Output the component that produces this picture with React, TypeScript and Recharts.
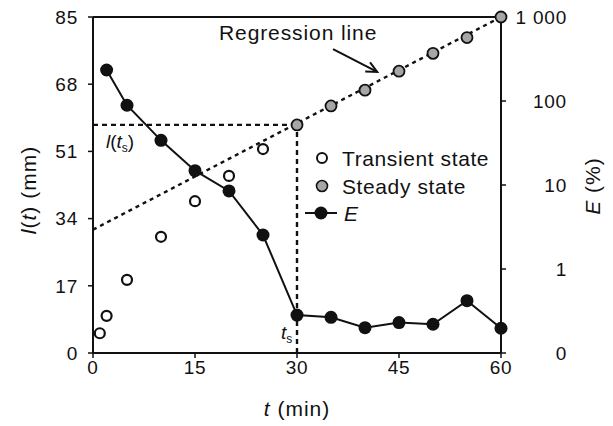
import React from "react";
import {
  ComposedChart,
  XAxis,
  YAxis,
  Line,
  Scatter,
  ReferenceLine,
  Customized,
} from "recharts";

const tTransient = [1, 2, 5, 10, 15, 20, 25];
const lTransient = [5, 9.4, 18.5, 29.4, 38.4, 44.8, 51.6];
const tSteady = [30, 35, 40, 45, 50, 55, 60];
const lSteady = [57.7, 62.5, 66.5, 71.3, 75.8, 79.8, 85];
const tE = [2, 5, 10, 15, 20, 25, 30, 35, 40, 45, 50, 55, 60];
const eValues = [234, 89, 34, 14.8, 8.5, 2.54, 0.283, 0.266, 0.2, 0.23, 0.22, 0.42, 0.197];
const tRegression = [0, 60];
const lRegression = [31.2, 85];
const tS = 30;
const lTS = 57.7;
const arrowStart = { t: 35.3, l: 76.9 };
const arrowEnd = { t: 41.8, l: 71.1 };

const xTicks = [0, 15, 30, 45, 60];
const leftTicks = [0, 17, 34, 51, 68, 85];
const rightTicks = [0.1, 1, 10, 100, 1000];
const rightTickLabels = ["0", "1", "10", "100", "1 000"];

const transientData = tTransient.map((t, i) => ({ t, l: lTransient[i] }));
const steadyData = tSteady.map((t, i) => ({ t, l: lSteady[i] }));
const eData = tE.map((t, i) => ({ t, e: eValues[i] }));
const regData = tRegression.map((t, i) => ({ t, reg: lRegression[i] }));

const FONT = "'Liberation Sans', Arial, sans-serif";

const RightTick = (props: any) => {
  const { x, y, payload } = props;
  const idx = rightTicks.indexOf(payload.value);
  return (
    <text
      x={x + 59}
      y={y}
      dy="0.36em"
      textAnchor="end"
      fontSize={19}
      letterSpacing={0.8}
      fontFamily={FONT}
      fill="#111"
    >
      {idx >= 0 ? rightTickLabels[idx] : payload.value}
    </text>
  );
};

const ArrowShape = (props: any) => {
  const { x1, y1, x2, y2 } = props;
  if ([x1, y1, x2, y2].some((v) => typeof v !== "number")) return null;
  const ang = Math.atan2(y2 - y1, x2 - x1);
  const len = 12;
  const spread = 0.45;
  const ax = x2 - len * Math.cos(ang - spread);
  const ay = y2 - len * Math.sin(ang - spread);
  const bx = x2 - len * Math.cos(ang + spread);
  const by = y2 - len * Math.sin(ang + spread);
  return (
    <g>
      <line x1={x1} y1={y1} x2={x2} y2={y2} stroke="#111" strokeWidth={2} />
      <polyline
        points={`${ax},${ay} ${x2},${y2} ${bx},${by}`}
        fill="none"
        stroke="#111"
        strokeWidth={2}
      />
    </g>
  );
};

const Annotations = () => (
  <g fontFamily={FONT} fill="#111">
    <text x={219} y={40} fontSize={21} letterSpacing={0.9}>
      Regression line
    </text>
    <text x={106} y={148} fontSize={19}>
      <tspan fontStyle="italic">l</tspan>(
      <tspan fontStyle="italic">t</tspan>
      <tspan fontSize={12} dy={4}>s</tspan>
      <tspan dy={-4}>)</tspan>
    </text>
    <text x={281} y={339} fontSize={19}>
      <tspan fontStyle="italic">t</tspan>
      <tspan fontSize={12} dy={4}>s</tspan>
    </text>
    <circle cx={322} cy={158} r={5} fill="#fff" stroke="#111" strokeWidth={2} />
    <text x={342} y={158} dy="0.36em" fontSize={21} letterSpacing={0.6}>
      Transient state
    </text>
    <circle cx={322} cy={186} r={5.5} fill="#a6a6a6" stroke="#111" strokeWidth={1.6} />
    <text x={342} y={186} dy="0.36em" fontSize={21} letterSpacing={0.6}>
      Steady state
    </text>
    <line x1={305} y1={213} x2={337} y2={213} stroke="#111" strokeWidth={2} />
    <circle cx={321} cy={213} r={6.5} fill="#111" />
    <text x={344} y={213} dy="0.36em" fontSize={21} fontStyle="italic">
      E
    </text>
    <text x={297} y={416} fontSize={21} textAnchor="middle" letterSpacing={1}>
      <tspan fontStyle="italic">t</tspan> (min)
    </text>
    <text
      x={36}
      y={190}
      fontSize={21}
      textAnchor="middle"
      letterSpacing={1}
      transform="rotate(-90 36 190)"
    >
      <tspan fontStyle="italic">l</tspan>(<tspan fontStyle="italic">t</tspan>) (mm)
    </text>
    <text
      x={600}
      y={186}
      fontSize={21}
      textAnchor="middle"
      letterSpacing={1}
      transform="rotate(-90 600 186)"
    >
      <tspan fontStyle="italic">E</tspan> (%)
    </text>
  </g>
);

export default function App() {
  return (
    <div style={{ position: "absolute", left: 0, top: 0, background: "#fff" }}>
      <ComposedChart
        width={613}
        height={426}
        margin={{ top: 17, right: 32, bottom: 33, left: 33 }}
        style={{ fontFamily: FONT }}
      >
        <XAxis
          dataKey="t"
          type="number"
          domain={[0, 60]}
          ticks={xTicks}
          height={40}
          tickSize={5}
          tickMargin={3}
          axisLine={{ stroke: "#111", strokeWidth: 2 }}
          tickLine={{ stroke: "#111", strokeWidth: 1.5 }}
          tick={{ fontSize: 19, fill: "#111", fontFamily: FONT, letterSpacing: 0.8 }}
        />
        <YAxis
          yAxisId="left"
          orientation="left"
          type="number"
          domain={[0, 85]}
          ticks={leftTicks}
          width={60}
          tickSize={5}
          tickMargin={10}
          axisLine={{ stroke: "#111", strokeWidth: 2 }}
          tickLine={{ stroke: "#111", strokeWidth: 1.5 }}
          tick={{ fontSize: 19, fill: "#111", fontFamily: FONT, letterSpacing: 0.8 }}
        />
        <YAxis
          yAxisId="right"
          orientation="right"
          scale="log"
          type="number"
          domain={[0.1, 1000]}
          ticks={rightTicks}
          width={80}
          tickSize={5}
          tickMargin={2}
          axisLine={{ stroke: "#111", strokeWidth: 2 }}
          tickLine={{ stroke: "#111", strokeWidth: 1.5 }}
          tick={<RightTick />}
        />
        <ReferenceLine yAxisId="left" y={85} stroke="#111" strokeWidth={2} />
        <ReferenceLine
          yAxisId="left"
          segment={[
            { x: 0, y: lTS },
            { x: tS, y: lTS },
          ]}
          stroke="#111"
          strokeWidth={2.4}
          strokeDasharray="5 4"
        />
        <ReferenceLine
          yAxisId="left"
          segment={[
            { x: tS, y: 0 },
            { x: tS, y: lTS },
          ]}
          stroke="#111"
          strokeWidth={2.4}
          strokeDasharray="5 4"
        />
        <ReferenceLine
          yAxisId="left"
          segment={[
            { x: arrowStart.t, y: arrowStart.l },
            { x: arrowEnd.t, y: arrowEnd.l },
          ]}
          shape={<ArrowShape />}
        />
        <Line
          yAxisId="left"
          data={regData}
          dataKey="reg"
          type="linear"
          stroke="#111"
          strokeWidth={2.4}
          strokeDasharray="4 4"
          dot={false}
          activeDot={false}
          isAnimationActive={false}
        />
        <Scatter
          yAxisId="left"
          data={transientData}
          dataKey="l"
          isAnimationActive={false}
          shape={(p: any) => (
            <circle cx={p.cx} cy={p.cy} r={5} fill="#fff" stroke="#111" strokeWidth={2.2} />
          )}
        />
        <Scatter
          yAxisId="left"
          data={steadyData}
          dataKey="l"
          isAnimationActive={false}
          shape={(p: any) => (
            <circle cx={p.cx} cy={p.cy} r={5.5} fill="#a6a6a6" stroke="#111" strokeWidth={1.8} />
          )}
        />
        <Line
          yAxisId="right"
          data={eData}
          dataKey="e"
          type="linear"
          stroke="#111"
          strokeWidth={2}
          dot={{ r: 6.5, fill: "#111", stroke: "#111", strokeWidth: 0 }}
          activeDot={false}
          isAnimationActive={false}
        />
        <Customized component={Annotations} />
      </ComposedChart>
    </div>
  );
}
